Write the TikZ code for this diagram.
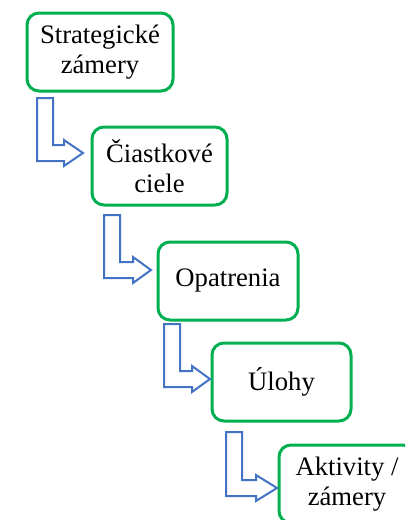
\documentclass[tikz,border=0pt]{standalone}
\usepackage{fontspec}
\setmainfont{Liberation Serif}
\definecolor{boxgreen}{HTML}{00B050}
\definecolor{arrblue}{HTML}{4472C4}
\newcommand\bentarr[5]{% xl, top, shafttop, headbase, tip
  \draw[arrowline] (#1,#2) -- ++(16,0) -- (#1+16,#3) -- (#4,#3) -- (#4,#3-5) -- (#5,#3+8) -- (#4,#3+21) -- (#4,#3+16) -- (#1,#3+16) -- cycle;}
\tikzset{
  stepbox/.style={draw=boxgreen, line width=3pt, rounded corners=12pt, fill=white,
    align=center, inner sep=0pt, font=\fontsize{26.67}{29.5}\selectfont},
  arrowline/.style={draw=arrblue, line width=2pt, line join=miter, fill=white}
}
\begin{document}
\begin{tikzpicture}[x=1pt,y=-1pt]
\useasboundingbox (0,0) rectangle (405,520);
\clip (0,0) rectangle (405,520);
\node[stepbox, minimum width=146pt, minimum height=78pt] (b1) at (100,52) {Strategické\\zámery};
\node[stepbox, minimum width=135pt, minimum height=78pt] (b2) at (159.5,166) {Čiastkové\\ciele};
\node[stepbox, minimum width=140pt, minimum height=78pt] (b3) at (228,281) {Opatrenia};
\node[stepbox, minimum width=139pt, minimum height=78pt] (b4) at (281.5,382) {Úlohy};
\node[stepbox, minimum width=136pt, minimum height=78pt] (b5) at (347,484) {Aktivity /\\zámery};
\bentarr{37}{98}{145}{64}{83}
\bentarr{104}{215}{262}{133}{151}
\bentarr{164}{324}{371}{192}{210}
\bentarr{226}{432}{480}{256}{277}
\end{tikzpicture}
\end{document}
